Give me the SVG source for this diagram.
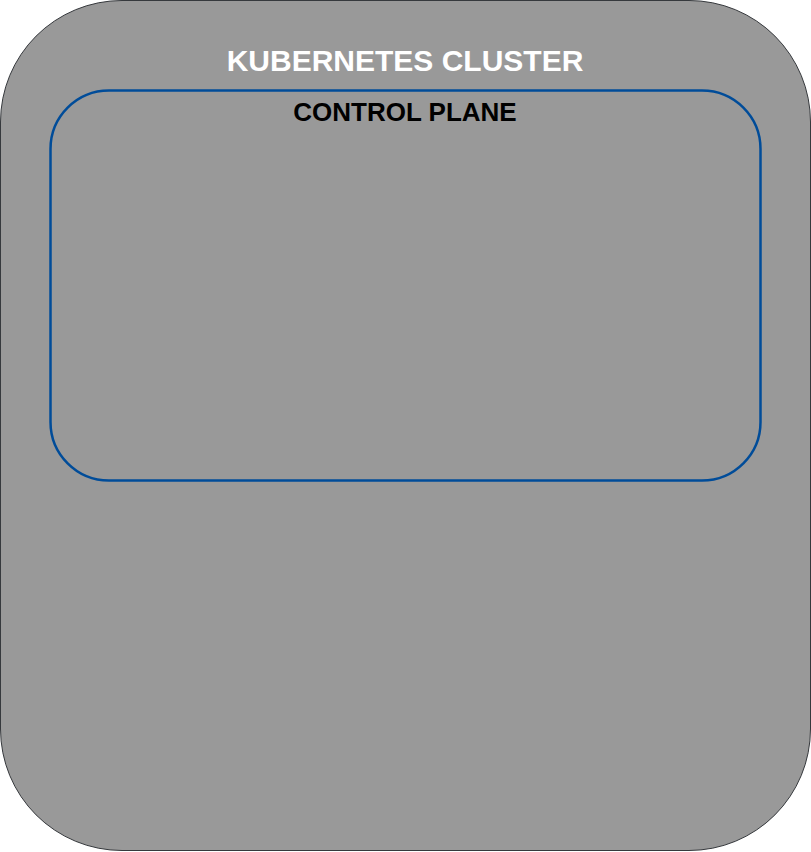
<svg xmlns="http://www.w3.org/2000/svg" width="811" height="852" viewBox="0 0 811 852">
  <style>
    .title { font-family: "Liberation Sans", Arial, sans-serif; font-weight: bold; text-anchor: middle; }
  </style>
  <rect width="811" height="852" fill="#ffffff"/>
  <g id="cluster">
    <rect x="0.5" y="0.5" width="810" height="850" rx="121.5" ry="121.5" fill="#999999" stroke="#36393d" stroke-width="1"/>
    <text class="title" x="405" y="71" font-size="30" fill="#ffffff">KUBERNETES CLUSTER</text>
  </g>
  <g id="control-plane">
    <rect x="50.5" y="90.5" width="710" height="390" rx="58.5" ry="58.5" fill="none" stroke="#004c99" stroke-width="2.5"/>
    <text class="title" x="405" y="121" font-size="26" fill="#000000">CONTROL PLANE</text>
  </g>
  <g id="connectors"></g>
</svg>
